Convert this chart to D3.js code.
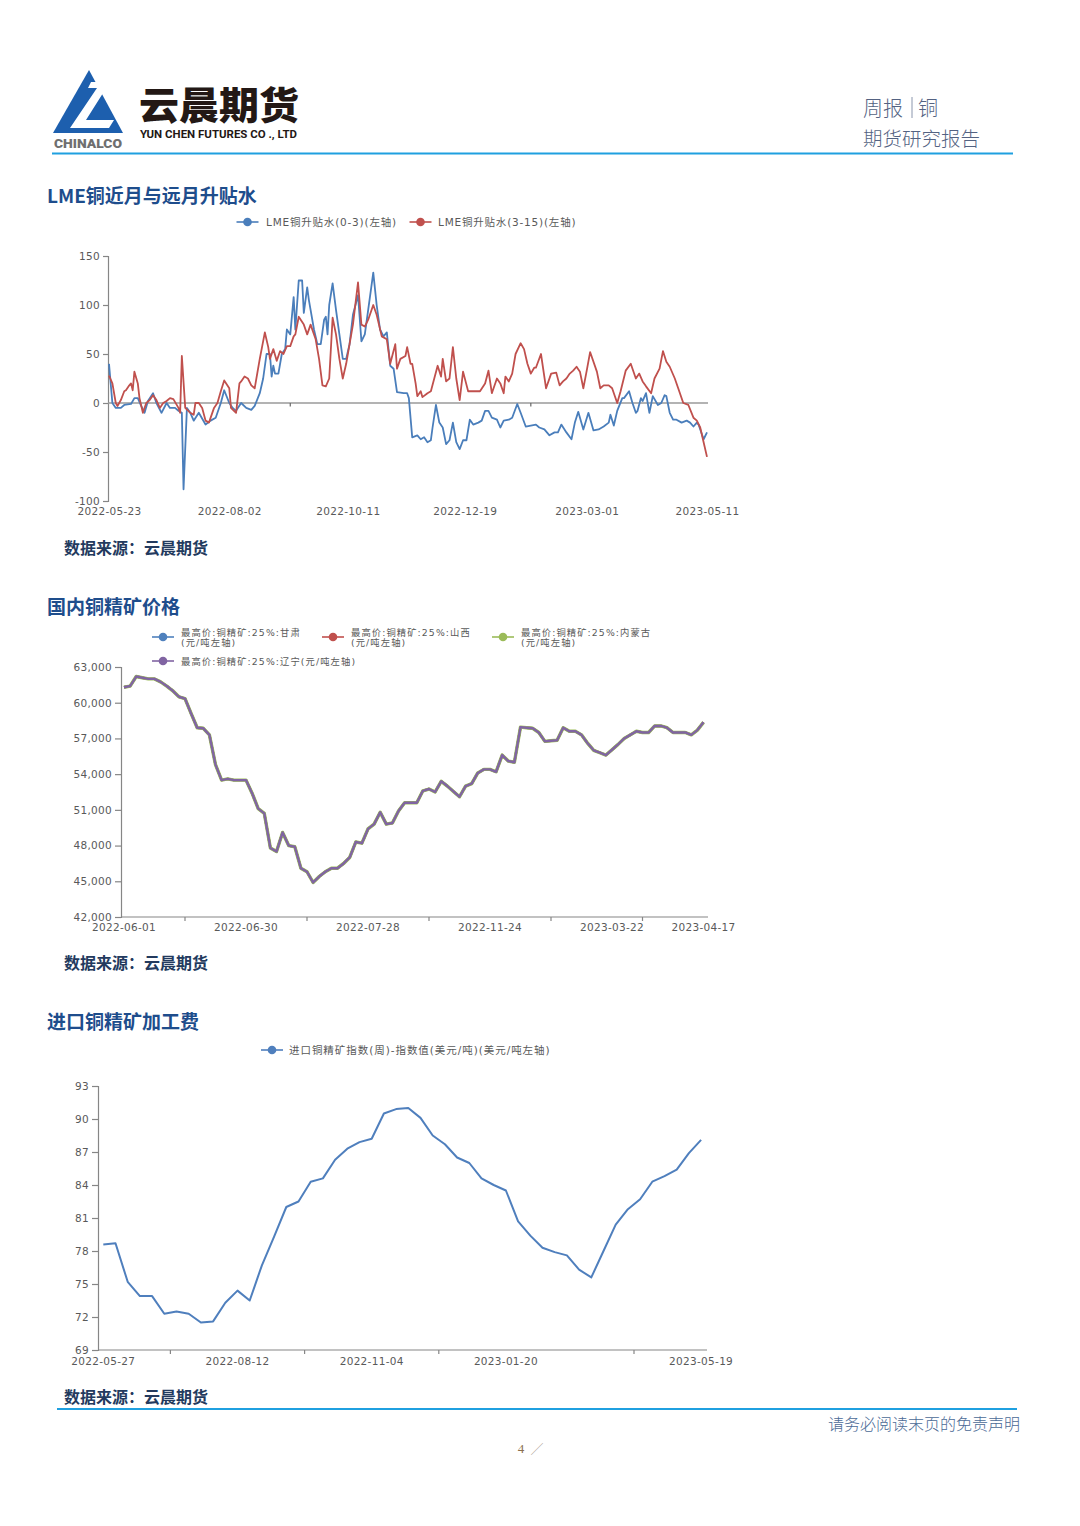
<!DOCTYPE html>
<html><head><meta charset="utf-8">
<script src="https://cdn.jsdelivr.net/npm/d3@7"></script>
<style>body{margin:0;background:#fff} svg{display:block}</style>
</head><body>
<svg id="page" width="1080" height="1526"></svg>
<script>
// ---------------- DATA ----------------
// Chart 1: LME copper spreads (day offsets from start date, values USD/t)
const lmeStart = "2022-05-23";
const lmeEnd = "2023-05-11";
const lmeSeries = ["LME铜升贴水(0-3)(左轴)", "LME铜升贴水(3-15)(左轴)"];
const lmeNearDays = [0,2,4,7,9,13,15,17,19,21,23,26,28,31,34,36,39,41,43,44,46,48,50,53,57,60,63,66,68,71,73,75,78,81,84,86,89,91,93,95,96,97,98,100,102,104,105,107,109,110,112,114,115,117,118,121,123,125,127,128,129,130,132,134,136,138,140,142,144,147,149,151,153,156,158,160,162,164,166,168,170,174,176,177,179,182,184,186,188,190,191,193,195,197,199,201,203,205,207,209,211,213,215,218,220,222,224,226,229,231,233,236,238,241,243,246,249,252,254,257,260,263,265,267,270,273,275,277,280,283,286,289,292,295,296,298,300,303,304,307,309,311,312,314,315,317,319,321,324,326,328,329,331,333,335,338,341,343,345,347,348,351,353];
const lmeNearVals = [40,0,-5,-5,-2,-1,5,5,-3,-10,2,10,0,-10,0,-5,-5,-8,-10,-88,-5,-10,-18,-10,-22,-18,-15,0,13,0,-5,-8,0,-5,-7,-3,10,25,50,50,27,38,30,30,50,55,75,70,108,75,125,125,92,118,105,75,60,60,85,88,70,100,122,95,70,45,45,60,90,110,63,70,95,133,100,75,68,72,38,35,11,10,10,5,-35,-33,-37,-35,-40,-38,-25,-2,-20,-25,-42,-38,-20,-40,-47,-38,-38,-17,-22,-20,-18,-8,-8,-15,-17,-25,-18,-17,-15,-1,-10,-24,-23,-22,-25,-27,-33,-30,-30,-22,-30,-37,-20,-9,-27,-10,-28,-27,-24,-20,-12,-23,-8,5,5,12,0,-10,-8,5,2,10,-10,7,-2,0,8,7,-10,-17,-17,-20,-18,-20,-24,-20,-22,-37,-30];
const lmeFarDays = [0,2,4,5,7,9,10,12,13,14,15,17,18,20,22,24,26,28,30,32,34,36,38,41,42,43,45,48,50,51,53,55,57,59,62,64,66,68,71,72,75,77,78,80,82,84,86,89,92,94,95,97,99,101,103,105,107,109,110,112,115,117,119,122,124,126,128,130,132,134,136,138,140,142,144,147,149,151,153,156,158,161,164,166,169,170,172,175,176,178,179,181,182,184,185,188,190,192,194,196,197,199,201,203,205,207,209,212,215,219,222,224,226,229,231,233,234,236,238,240,243,245,247,249,251,252,255,258,261,264,266,268,270,272,274,276,278,280,282,284,288,290,292,295,297,300,302,305,308,311,313,315,317,320,322,325,327,329,331,334,336,339,342,345,347,349,351,353];
const lmeFarVals = [28,20,0,-3,3,12,13,18,20,13,32,20,5,-10,0,3,8,3,-5,0,2,5,4,-5,-10,48,-5,-10,-12,0,0,-5,-18,-20,-5,0,12,23,15,-5,-10,20,22,27,25,18,15,45,72,57,45,55,43,53,50,58,58,68,70,88,80,70,80,65,45,18,17,25,87,70,45,25,40,60,80,123,80,78,85,100,90,68,65,40,60,35,45,48,57,40,40,20,7,12,6,10,12,25,38,27,45,22,25,57,25,3,32,12,12,12,20,33,10,25,20,10,27,22,30,50,61,55,40,30,36,36,50,15,30,31,18,22,25,30,33,37,32,15,33,52,32,15,18,18,15,0,12,33,40,25,30,22,17,10,25,35,53,42,37,25,15,0,-2,-15,-18,-25,-40,-55];
const lmeXLabels = ["2022-05-23","2022-08-02","2022-10-11","2022-12-19","2023-03-01","2023-05-11"];
const lmeXMinorTicks = ["2022-09-07","2023-01-27"];
const lmeYTicks = [-100,-50,0,50,100,150];

// Chart 2: domestic copper concentrate price (yuan/t), category index axis
const oreSeries = ["最高价:铜精矿:25%:甘肃", "最高价:铜精矿:25%:山西", "最高价:铜精矿:25%:内蒙古", "最高价:铜精矿:25%:辽宁"];
const oreUnit = "(元/吨左轴)";
const orePrice = [61300,61400,62200,62100,62000,62000,61750,61400,61000,60500,60350,59100,57900,57850,57300,54800,53500,53600,53500,53500,53500,52400,51100,50700,47800,47500,49100,48000,47900,46100,45800,44900,45400,45800,46100,46100,46500,47000,48300,48200,49400,49800,50800,49800,49900,50900,51600,51600,51600,52600,52750,52500,53400,53000,52550,52100,53000,53200,54100,54400,54400,54200,55600,55100,55000,57950,57900,57850,57500,56750,56800,56850,57900,57600,57600,57300,56600,56000,55800,55600,56050,56500,57000,57300,57600,57500,57500,58050,58050,57900,57500,57500,57500,57300,57700,58350];
const oreLabelIdx = [0,20,40,60,80,95];
const oreLabelText = ["2022-06-01","2022-06-30","2022-07-28","2022-11-24","2023-03-22","2023-04-17"];
const oreTickIdx = [10,30,50,70,85];
const oreYTicks = [42000,45000,48000,51000,54000,57000,60000,63000];

// Chart 3: imported copper concentrate TC index (USD/t), weekly
const tcSeries = "进口铜精矿指数(周)-指数值(美元/吨)(美元/吨左轴)";
const tcVals = [78.6,78.7,75.2,73.9,73.9,72.3,72.5,72.3,71.5,71.6,73.3,74.4,73.5,76.7,79.3,82.0,82.5,84.3,84.6,86.3,87.3,87.9,88.2,90.5,90.9,91.0,90.1,88.5,87.7,86.5,86.0,84.6,84.0,83.5,80.7,79.4,78.3,77.9,77.6,76.3,75.6,78.0,80.4,81.8,82.7,84.3,84.8,85.4,86.9,88.1];
const tcLabelIdx = [0,11,22,33,49];
const tcLabelText = ["2022-05-27","2022-08-12","2022-11-04","2023-01-20","2023-05-19"];
const tcTickIdx = [5.5,16.5,27.5,43.5];
const tcYTicks = [69,72,75,78,81,84,87,90,93];

// ---------------- DRAWING ----------------
const F_LAT = '"DejaVu Sans", "Noto Sans CJK SC", sans-serif';
const F_CJK = '"Noto Sans CJK SC", sans-serif';
const AXIS = "#868686", TXT = "#595959";
const svg = d3.select("#page");

// Header
const logo = svg.append("g");
logo.append("polygon").attr("points","53,133 89,70 123,133").attr("fill","#1d5fae");
logo.append("polygon").attr("points","91,82 110,82 86,120 114,120 109,128 70,128 97,88 88,88").attr("fill","#fff");
logo.append("text").attr("x",54).attr("y",147.5).text("CHINALCO")
  .attr("textLength",68).attr("lengthAdjust","spacingAndGlyphs")
  .style("font-family","Roboto, sans-serif").style("font-weight","900").style("font-size","13px").attr("fill","#6f6f6f");
svg.append("text").attr("x",139).attr("y",102).attr("dominant-baseline","central").text("云晨期货")
  .attr("textLength",160).attr("lengthAdjust","spacingAndGlyphs")
  .style("font-family",F_CJK).style("font-weight","900").style("font-size","38px").attr("fill","#231815");
svg.append("text").attr("x",140).attr("y",138).text("YUN CHEN FUTURES CO ., LTD")
  .attr("textLength",157).attr("lengthAdjust","spacingAndGlyphs")
  .style("font-family","Roboto, sans-serif").style("font-weight","bold").style("font-size","10.5px").attr("fill","#231815");
svg.append("text").attr("x",863).attr("y",107).attr("dominant-baseline","central").text("周报")
  .style("font-family",F_CJK).style("font-weight","300").style("font-size","20px").attr("fill","#536282");
svg.append("line").attr("x1",912).attr("x2",912).attr("y1",97).attr("y2",118).attr("stroke","#8a96ad").attr("stroke-width",1);
svg.append("text").attr("x",918).attr("y",107).attr("dominant-baseline","central").text("铜")
  .style("font-family",F_CJK).style("font-weight","300").style("font-size","20px").attr("fill","#536282");
svg.append("text").attr("x",863).attr("y",137).attr("dominant-baseline","central").text("期货研究报告")
  .style("font-family",F_CJK).style("font-weight","300").style("font-size","19.5px").attr("fill","#536282");
svg.append("line").attr("x1",52).attr("x2",1013).attr("y1",153.5).attr("y2",153.5).attr("stroke","#1fa0e0").attr("stroke-width",2);

function title(t, y){
  svg.append("text").attr("x",47).attr("y",y).attr("dominant-baseline","central").text(t)
    .style("font-family",F_CJK).style("font-weight","bold").style("font-size","19px").attr("fill","#1e4d8c");
}
function source(y){
  svg.append("text").attr("x",64).attr("y",y).attr("dominant-baseline","central").text("数据来源：云晨期货")
    .style("font-family",F_CJK).style("font-weight","bold").style("font-size","16px").attr("fill","#233a5e");
}
function marker(cx, cy, color){
  svg.append("line").attr("x1",cx-11).attr("x2",cx+11).attr("y1",cy).attr("y2",cy).attr("stroke",color).attr("stroke-width",1.6);
  svg.append("circle").attr("cx",cx).attr("cy",cy).attr("r",4.3).attr("fill",color);
}
function legText(x, y, t, size, ls){
  svg.append("text").attr("x",x).attr("y",y).attr("dominant-baseline","central").text(t)
    .style("font-family",F_LAT).style("font-size",size+"px").style("letter-spacing",ls+"px").attr("fill",TXT);
}
function styleAxis(g){
  g.selectAll("path,line").attr("stroke",AXIS).attr("stroke-width",1.2);
  g.selectAll("text").attr("fill",TXT).style("font-family",F_LAT).style("font-size","10.5px").style("letter-spacing","0.3px");
}

// ---- Chart 1 ----
title("LME铜近月与远月升贴水", 194);
const parse = d3.timeParse("%Y-%m-%d");
const t0 = parse(lmeStart);
const x1 = d3.scaleTime().domain([t0, parse(lmeEnd)]).range([109, 707]);
const y1 = d3.scaleLinear().domain([-100,150]).range([501,256]);
const near = lmeNearDays.map((d,i)=>({date:d3.timeDay.offset(t0,d), v:lmeNearVals[i]}));
const far = lmeFarDays.map((d,i)=>({date:d3.timeDay.offset(t0,d), v:lmeFarVals[i]}));
const c1 = ["#4a7ebb", "#c0504d"];
marker(247.5, 222, c1[0]); legText(266, 222, lmeSeries[0], 10.5, 0.8);
marker(420.5, 222, c1[1]); legText(438, 222, lmeSeries[1], 10.5, 0.8);
const ya1 = svg.append("g").attr("transform","translate(108,0)")
  .call(d3.axisLeft(y1).tickValues(lmeYTicks).tickSize(5).tickPadding(3).tickFormat(d=>String(d)));
styleAxis(ya1);
svg.append("line").attr("x1",108).attr("x2",708).attr("y1",y1(0)).attr("y2",y1(0)).attr("stroke","#9a9a9a").attr("stroke-width",1.5);
svg.selectAll(".mt1").data(lmeXMinorTicks).enter().append("line")
  .attr("x1",d=>x1(parse(d))).attr("x2",d=>x1(parse(d))).attr("y1",y1(0)).attr("y2",y1(0)+3.5).attr("stroke","#666").attr("stroke-width",1.2);
const xa1 = svg.append("g").attr("transform","translate(0,507.5)")
  .call(d3.axisBottom(x1).tickValues(lmeXLabels.map(parse)).tickSize(0).tickPadding(0).tickFormat(d3.timeFormat("%Y-%m-%d")));
xa1.select(".domain").remove();
styleAxis(xa1);
const line1 = d3.line().x(d=>x1(d.date)).y(d=>y1(d.v));
svg.append("path").datum(near).attr("d",line1).attr("fill","none").attr("stroke",c1[0]).attr("stroke-width",1.8).attr("stroke-linejoin","round");
svg.append("path").datum(far).attr("d",line1).attr("fill","none").attr("stroke",c1[1]).attr("stroke-width",1.8).attr("stroke-linejoin","round");
source(547);

// ---- Chart 2 ----
title("国内铜精矿价格", 605);
const c2 = ["#4f81bd","#c0504d","#9bbb59","#8064a2"];
const legX = [163, 333, 503];
for (let k=0;k<3;k++){
  marker(legX[k], 637, c2[k]);
  legText(legX[k]+18, 632.5, oreSeries[k], 9.3, 1.1);
  legText(legX[k]+18, 642, oreUnit, 9.3, 1.1);
}
marker(163, 661, c2[3]); legText(181, 661, oreSeries[3] + oreUnit, 9.3, 1.1);
const x2 = d3.scaleLinear().domain([0, orePrice.length-1]).range([124, 703.5]);
const y2 = d3.scaleLinear().domain([42000,63000]).range([917,667]);
const ya2 = svg.append("g").attr("transform","translate(121,0)")
  .call(d3.axisLeft(y2).tickValues(oreYTicks).tickSize(6).tickPadding(3).tickFormat(d3.format(",")));
styleAxis(ya2);
svg.append("line").attr("x1",121).attr("x2",708).attr("y1",917).attr("y2",917).attr("stroke",AXIS).attr("stroke-width",1.2);
svg.selectAll(".mt2").data(oreTickIdx).enter().append("line")
  .attr("x1",d=>x2(d)).attr("x2",d=>x2(d)).attr("y1",917).attr("y2",921).attr("stroke",AXIS).attr("stroke-width",1.2);
svg.selectAll(".xl2").data(oreLabelIdx).enter().append("text")
  .attr("x",d=>x2(d)).attr("y",927).attr("text-anchor","middle").attr("dominant-baseline","central")
  .text((d,i)=>oreLabelText[i]).attr("fill",TXT).style("font-family",F_LAT).style("font-size","10.5px").style("letter-spacing","0.3px");
const line2 = d3.line().x((d,i)=>x2(i)).y(d=>y2(d));
const widths2 = [2.4, 2.4, 3.4, 2.4];
for (let k=0;k<4;k++){
  svg.append("path").datum(orePrice).attr("d",line2).attr("fill","none").attr("stroke",c2[k])
    .attr("stroke-width",widths2[k]).attr("stroke-linejoin","round");
}
source(962);

// ---- Chart 3 ----
title("进口铜精矿加工费", 1020);
const c3 = "#4f7fbd";
marker(272, 1050, c3); legText(289, 1050, tcSeries, 10.5, 0.95);
const x3 = d3.scaleLinear().domain([0, tcVals.length-1]).range([103.3, 701.1]);
const y3 = d3.scaleLinear().domain([69,93]).range([1350,1086]);
const ya3 = svg.append("g").attr("transform","translate(98,0)")
  .call(d3.axisLeft(y3).tickValues(tcYTicks).tickSize(6).tickPadding(3).tickFormat(d=>String(d)));
styleAxis(ya3);
svg.append("line").attr("x1",98).attr("x2",707).attr("y1",1350).attr("y2",1350).attr("stroke",AXIS).attr("stroke-width",1.2);
svg.selectAll(".mt3").data(tcTickIdx).enter().append("line")
  .attr("x1",d=>x3(d)).attr("x2",d=>x3(d)).attr("y1",1350).attr("y2",1354).attr("stroke",AXIS).attr("stroke-width",1.2);
svg.selectAll(".xl3").data(tcLabelIdx).enter().append("text")
  .attr("x",d=>x3(d)).attr("y",1360.5).attr("text-anchor","middle").attr("dominant-baseline","central")
  .text((d,i)=>tcLabelText[i]).attr("fill",TXT).style("font-family",F_LAT).style("font-size","10.5px").style("letter-spacing","0.3px");
svg.append("path").datum(tcVals).attr("d",d3.line().x((d,i)=>x3(i)).y(d=>y3(d)))
  .attr("fill","none").attr("stroke",c3).attr("stroke-width",2).attr("stroke-linejoin","round");
source(1396);

// Footer
svg.append("line").attr("x1",57).attr("x2",1017).attr("y1",1409).attr("y2",1409).attr("stroke","#1fa0e0").attr("stroke-width",2);
svg.append("text").attr("x",1020).attr("y",1423).attr("text-anchor","end").attr("dominant-baseline","central").text("请务必阅读末页的免责声明")
  .style("font-family",F_CJK).style("font-weight","300").style("font-size","16px").attr("fill","#4b6a96");
svg.append("text").attr("x",521).attr("y",1448).attr("text-anchor","middle").attr("dominant-baseline","central").text("4")
  .style("font-family",'"Liberation Serif", serif').style("font-size","13px").attr("fill","#8b6f4e");
svg.append("text").attr("x",537).attr("y",1448).attr("text-anchor","middle").attr("dominant-baseline","central").text("／")
  .style("font-family",F_CJK).style("font-weight","300").style("font-size","13px").attr("fill","#9a8a7a");
</script>
</body></html>
